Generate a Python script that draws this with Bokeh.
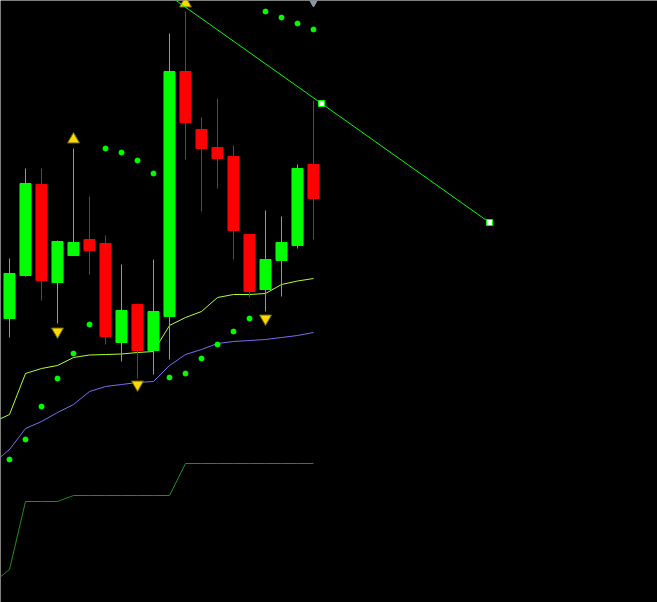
from bokeh.plotting import figure
from bokeh.models import Range1d, ColumnDataSource
from bokeh.embed import file_html
from bokeh.resources import INLINE

# ---- data (price units, higher = higher price) ----
bar_index = list(range(20))
opens  = [284, 327, 418, 320, 347, 363, 359, 260, 298, 252, 286, 531, 473, 455, 446, 368, 313, 342, 357, 438]
highs  = [344, 434, 434, 362, 454, 406, 367, 338, 299, 343, 569, 591, 485, 504, 457, 368, 392, 386, 438, 502]
lows   = [265, 326, 302, 279, 347, 328, 258, 241, 224, 228, 243, 443, 391, 414, 343, 305, 291, 306, 354, 363]
closes = [329, 419, 322, 361, 360, 352, 266, 292, 252, 291, 531, 480, 454, 444, 372, 311, 343, 360, 434, 404]

sar = [143, 163, 196, 224, 249, 278, 454, 450, 442, 429, 225, 229, 244, 258, 271, 284, 591, 585, 579, 573]

line_index = list(range(-1, 20))
ma_fast = [180.5, 188, 229, 234, 237, 245, 247.5, 248, 248.5, 250, 251, 277, 285, 291, 305, 308, 308, 309, 318, 321.5, 324]
ma_mid  = [139.5, 153, 174, 181, 190, 198, 211, 216, 218, 220, 221, 237, 248, 253, 259, 261, 262, 263, 265, 267, 270]
ma_slow = [20, 33, 101, 101, 101, 107, 107, 107, 107, 107, 107, 107, 139, 139, 139, 139, 139, 139, 139, 139, 139]

fractal_up_x = [4, 11]
fractal_up_y = [463, 599]
fractal_dn_x = [3, 8, 16]
fractal_dn_y = [271, 218, 284]

trend_x = [9, 30]
trend_y = [618, 380]
trend_pts_x = [19.5, 30]
trend_pts_y = [499, 380]

sell_mark_x = [19]
sell_mark_y = [603]

UP = "#00ff00"
DN = "#ff0000"

colors = [UP if c >= o else DN for o, c in zip(opens, closes)]
tops = [max(o, c) for o, c in zip(opens, closes)]
bottoms = [min(o, c) for o, c in zip(opens, closes)]

src = ColumnDataSource(dict(x=bar_index, o=opens, h=highs, l=lows, c=closes,
                            top=tops, bottom=bottoms, color=colors))

p = figure(width=657, height=602, x_range=Range1d(-9 / 16, 648 / 16), y_range=Range1d(0, 602),
           x_axis_type=None, y_axis_type=None, toolbar_location=None, output_backend="svg",
           background_fill_color="black", border_fill_color="black", min_border=0,
           outline_line_color=None)
p.grid.visible = False

# moving-average style lines
p.line(line_index, ma_slow, line_color="#1e8c1e", line_width=1)
p.line(line_index, ma_mid, line_color="#7b6cf0", line_width=1)
p.line(line_index, ma_fast, line_color="#adff2f", line_width=1)

# candles
p.segment(x0="x", y0="h", x1="x", y1="l", source=src, line_color="color", line_width=1)
p.vbar(x="x", width=0.69, top="top", bottom="bottom", source=src,
       fill_color="color", line_color="color", line_width=1)

# parabolic SAR
p.scatter(bar_index, sar, size=5, fill_color=UP, line_color=UP)

# fractals
p.scatter(fractal_up_x, fractal_up_y, marker="triangle", size=12,
          fill_color="#ffd800", line_color="#6b6b00", line_width=1)
p.scatter(fractal_dn_x, fractal_dn_y, marker="inverted_triangle", size=12,
          fill_color="#ffd800", line_color="#6b6b00", line_width=1)

# trend line
p.line(trend_x, trend_y, line_color=UP, line_width=1)
p.scatter(trend_pts_x, trend_pts_y, marker="square", size=6,
          fill_color="white", line_color=UP, line_width=1)

# grey marker at the top edge
p.scatter(sell_mark_x, sell_mark_y, marker="inverted_triangle", size=13,
          fill_color="#8a96a2", line_color="#8a96a2")

open("out.html", "w").write(file_html(p, INLINE))
